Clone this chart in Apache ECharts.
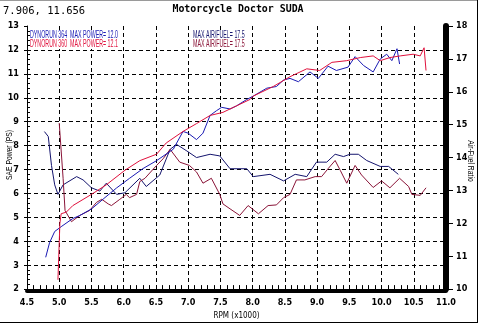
<!DOCTYPE html>
<html>
<head>
<meta charset="utf-8">
<script src="https://cdn.jsdelivr.net/npm/echarts@6/dist/echarts.min.js"></script>
<style>
  html, body { margin: 0; padding: 0; background: #fff; }
  #chart { width: 478px; height: 325px; }
</style>
</head>
<body>
<div id="chart"></div>
<script>
// dyno run 364 (blue) and 360 (red): power on left axis, air/fuel on right axis
var bluePowerRpm = [4.79, 4.85, 4.93, 5.03, 5.21, 5.32, 5.50, 5.68, 5.89, 6.09, 6.30, 6.51, 6.77, 6.92, 7.00, 7.13, 7.23, 7.34, 7.44, 7.52, 7.65, 7.75, 7.91, 8.01, 8.22, 8.37, 8.48, 8.58, 8.71, 8.89, 9.02, 9.17, 9.30, 9.48, 9.59, 9.72, 9.87, 9.98, 10.08, 10.16, 10.24, 10.28];
var bluePower = [3.33, 3.94, 4.41, 4.61, 4.95, 5.08, 5.35, 5.76, 6.23, 6.63, 7.04, 7.37, 7.85, 8.59, 8.52, 8.25, 8.52, 9.26, 9.46, 9.60, 9.53, 9.66, 9.93, 10.07, 10.40, 10.47, 10.74, 10.81, 10.67, 11.08, 10.81, 11.32, 11.14, 11.28, 11.72, 11.35, 11.08, 11.62, 11.82, 11.55, 12.05, 11.41];

var redPowerRpm = [4.98, 5.01, 5.03, 5.11, 5.21, 5.50, 5.73, 6.02, 6.25, 6.51, 6.66, 6.92, 7.13, 7.34, 7.54, 7.75, 7.96, 8.01, 8.32, 8.58, 8.84, 9.04, 9.23, 9.46, 9.67, 9.87, 9.98, 10.13, 10.29, 10.49, 10.60, 10.66, 10.69];
var redPower = [2.39, 4.75, 5.15, 5.22, 5.49, 5.96, 6.36, 6.97, 7.37, 7.64, 8.11, 8.59, 8.92, 9.26, 9.39, 9.66, 9.93, 10.07, 10.47, 10.88, 11.21, 11.14, 11.48, 11.55, 11.68, 11.75, 11.55, 11.68, 11.75, 11.82, 11.75, 12.09, 11.14];

var blueAfrRpm = [4.77, 4.83, 4.88, 4.93, 4.98, 5.06, 5.27, 5.37, 5.50, 5.63, 5.73, 5.89, 6.02, 6.25, 6.35, 6.56, 6.72, 6.82, 6.98, 7.13, 7.34, 7.49, 7.65, 7.91, 8.01, 8.27, 8.48, 8.66, 8.84, 8.99, 9.15, 9.28, 9.41, 9.51, 9.64, 9.77, 9.98, 10.11, 10.26];
var blueAfr = [14.79, 14.64, 13.76, 13.17, 12.88, 13.17, 13.42, 13.32, 13.08, 12.98, 13.22, 12.88, 12.93, 13.37, 13.12, 13.47, 14.25, 14.40, 14.20, 14.00, 14.10, 14.05, 13.66, 13.66, 13.42, 13.49, 13.29, 13.49, 13.42, 13.86, 13.86, 14.10, 14.03, 14.10, 14.10, 13.91, 13.73, 13.73, 13.49];

var redAfrRpm = [5.00, 5.06, 5.09, 5.19, 5.32, 5.47, 5.58, 5.66, 5.76, 5.81, 5.94, 6.04, 6.09, 6.20, 6.25, 6.33, 6.51, 6.61, 6.72, 6.87, 7.02, 7.13, 7.23, 7.36, 7.49, 7.54, 7.65, 7.80, 7.93, 8.09, 8.24, 8.37, 8.48, 8.58, 8.68, 8.81, 8.97, 9.07, 9.17, 9.28, 9.36, 9.46, 9.59, 9.69, 9.87, 10.00, 10.13, 10.28, 10.42, 10.47, 10.60, 10.69];
var redAfr = [15.05, 13.37, 12.39, 12.05, 12.24, 12.39, 12.64, 12.73, 12.59, 12.54, 12.73, 12.88, 12.78, 12.88, 13.27, 13.37, 13.76, 13.96, 14.25, 13.86, 13.76, 13.56, 13.22, 13.37, 12.88, 12.59, 12.44, 12.24, 12.54, 12.29, 12.54, 12.56, 12.78, 12.88, 13.32, 13.32, 13.42, 13.42, 13.66, 13.91, 13.61, 13.22, 13.76, 13.47, 13.09, 13.29, 13.08, 13.37, 13.12, 12.88, 12.85, 13.08];

var cursorText = '7.906, 11.656';
var titleText = 'Motorcycle Doctor SUDA';
var legendLeft = ['DYNORUN 364  MAX POWER= 12.0', 'DYNORUN 360  MAX POWER= 12.1'];
var legendRight = ['MAX AIR/FUEL= 17.5', 'MAX AIR/FUEL= 17.5'];

var BLUE = '#1a1ab4';
var NAVY = '#15156e';
var RED = '#e0103c';
var MAROON = '#8a1438';
var narrow = "'Liberation Sans Narrow', 'DejaVu Sans Condensed', 'Liberation Sans', sans-serif";
var legendFont = '10px "Liberation Sans", sans-serif';
var legendScale = 0.53;

function pairs(xs, ys) {
    return xs.map(function (x, i) { return [x, ys[i]]; });
}

var chart = echarts.init(document.getElementById('chart'), null, { renderer: 'canvas' });

var lineSeries = function (name, data, color, axis) {
    return {
        name: name,
        type: 'line',
        yAxisIndex: axis,
        data: data,
        symbol: 'none',
        smooth: false,
        animation: false,
        lineStyle: { color: color, width: 1 },
        z: 3
    };
};

var option = {
    backgroundColor: '#fff',
    animation: false,
    grid: { left: 27, right: 32, top: 26, bottom: 27 },
    xAxis: {
        type: 'value',
        min: 4.5,
        max: 11,
        interval: 0.5,
        offset: 2,
        name: 'RPM (x1000)',
        nameLocation: 'middle',
        nameGap: 17,
        nameTextStyle: { fontFamily: narrow, fontSize: 8, color: '#000' },
        axisLine: { lineStyle: { color: '#000', width: 4 } },
        axisTick: { inside: true, length: 6, lineStyle: { color: '#000' } },
        minorTick: { show: true, splitNumber: 5, length: 6, lineStyle: { color: '#000' } },
        splitLine: { show: true, showMinLine: false, showMaxLine: false, lineStyle: { color: '#000', type: [4, 3] } },
        axisLabel: {
            formatter: function (v) { return v.toFixed(1); },
            fontFamily: narrow, fontSize: 9, fontWeight: 'bold', color: '#000', margin: 7
        }
    },
    yAxis: [
        {
            type: 'value', position: 'left', min: 2, max: 13, interval: 1,
            axisLine: { show: true, lineStyle: { color: '#000', width: 1 } },
            axisTick: { show: false, inside: true },
            minorTick: { show: true, splitNumber: 5, length: 3, lineStyle: { color: '#000' } },
            splitLine: { show: true, showMinLine: false, showMaxLine: false, lineStyle: { color: '#000', type: [4, 3] } },
            axisLabel: { fontFamily: narrow, fontSize: 9, fontWeight: 'bold', color: '#000', margin: 8 }
        },
        {
            type: 'value', position: 'right', min: 10, max: 18, interval: 1,
            axisLine: { show: true, lineStyle: { color: '#000', width: 6 } },
            axisTick: { show: true, length: 7, lineStyle: { color: '#000' } },
            splitLine: { show: false },
            axisLabel: { fontFamily: narrow, fontSize: 9, fontWeight: 'bold', color: '#000', margin: 10 }
        },
        {
            // outward major ticks on the left axis
            type: 'value', position: 'left', min: 2, max: 13, interval: 1,
            axisLine: { show: false },
            axisTick: { show: true, length: 3, lineStyle: { color: '#000' } },
            splitLine: { show: false },
            axisLabel: { show: false }
        }
    ],
    series: [
        lineSeries('blueAfr', pairs(blueAfrRpm, blueAfr), NAVY, 1),
        lineSeries('redAfr', pairs(redAfrRpm, redAfr), MAROON, 1),
        lineSeries('bluePower', pairs(bluePowerRpm, bluePower), BLUE, 0),
        lineSeries('redPower', pairs(redPowerRpm, redPower), RED, 0)
    ],
    graphic: [
        { type: 'line', shape: { x1: 0, y1: 0.5, x2: 478, y2: 0.5 }, style: { stroke: '#9a9a9a', lineWidth: 1 } },
        { type: 'line', shape: { x1: 0, y1: 322.5, x2: 478, y2: 322.5 }, style: { stroke: '#000', lineWidth: 1 } },
        { type: 'line', shape: { x1: 477.5, y1: 0, x2: 477.5, y2: 323 }, style: { stroke: '#000', lineWidth: 1 } },
        { type: 'text', left: 3, top: 6, style: { text: cursorText, font: '10.5px "DejaVu Sans Mono", monospace', fill: '#000' } },
        { type: 'text', x: 238, y: 9, scaleX: 0.9, style: { text: titleText, font: 'bold 11px "DejaVu Sans Mono", monospace', fill: '#000', align: 'center', verticalAlign: 'middle' } },
        { type: 'text', x: 30, y: 35, scaleX: legendScale, z: 10, style: { text: legendLeft[0], font: legendFont, fill: BLUE, verticalAlign: 'middle', backgroundColor: '#fff' } },
        { type: 'text', x: 30, y: 44, scaleX: legendScale, z: 10, style: { text: legendLeft[1], font: legendFont, fill: RED, verticalAlign: 'middle', backgroundColor: '#fff' } },
        { type: 'text', x: 193, y: 35, scaleX: legendScale, z: 10, style: { text: legendRight[0], font: legendFont, fill: NAVY, verticalAlign: 'middle', backgroundColor: '#fff' } },
        { type: 'text', x: 193, y: 44, scaleX: legendScale, z: 10, style: { text: legendRight[1], font: legendFont, fill: MAROON, verticalAlign: 'middle', backgroundColor: '#fff' } },
        { type: 'text', x: 10, y: 155, rotation: Math.PI / 2, scaleX: 0.75, style: { text: 'SAE Power (PS)', font: '9px "Liberation Sans", sans-serif', fill: '#000', align: 'center', verticalAlign: 'middle' } },
        { type: 'text', x: 470, y: 161, rotation: -Math.PI / 2, scaleX: 0.75, style: { text: 'Air-Fuel Ratio', font: '9px "Liberation Sans", sans-serif', fill: '#000', align: 'center', verticalAlign: 'middle' } }
    ]
};

chart.setOption(option);
</script>
</body>
</html>
